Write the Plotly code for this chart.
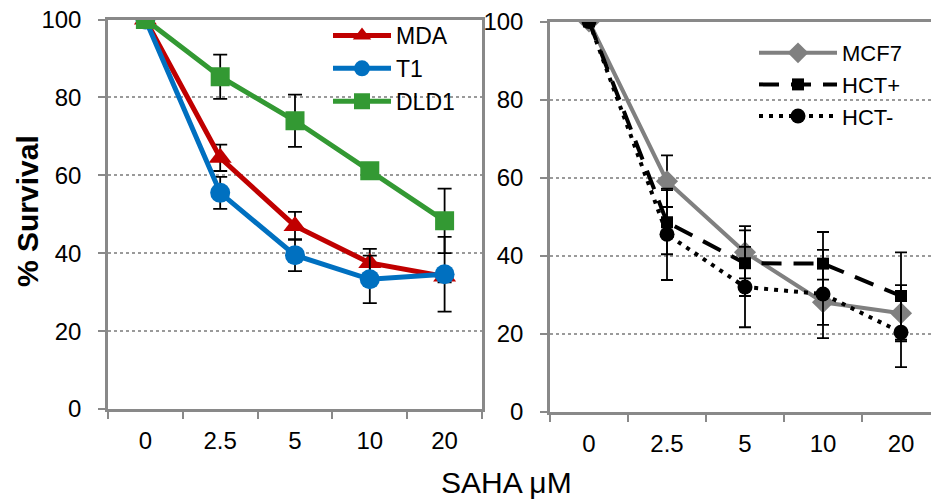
import plotly.graph_objects as go

categories = ["0", "2.5", "5", "10", "20"]

mda = [100, 64.5, 47.0, 37.5, 34.0]
mda_err = [0, 3.4, 3.6, 3.6, 1.5]
t1 = [100, 55.5, 39.5, 33.3, 34.6]
t1_err = [0, 4.1, 4.1, 6.1, 9.6]
dld1 = [100, 85.3, 74.0, 61.2, 48.3]
dld1_err = [0, 5.7, 6.7, 0.8, 8.3]

mcf7 = [100, 59.1, 40.9, 28.1, 25.3]
mcf7_err = [0, 6.6, 6.7, 5.8, 7.2]
hct_plus = [100, 48.6, 38.1, 38.0, 29.7]
hct_plus_err = [0, 8.2, 8.4, 8.1, 11.2]
hct_minus = [100, 45.5, 32.0, 30.2, 20.4]
hct_minus_err = [0, 11.7, 10.3, 11.3, 8.9]

y_ticks = [0, 20, 40, 60, 80, 100]

FONT = "Liberation Sans, Arial, sans-serif"
W, H = 931, 499
AX = "#898989"
GRID = "#9a9a9a"


def px(x):
    return x / W


def py(y):
    return 1 - y / H


def err(vals, w):
    return dict(type="data", array=vals, visible=True, color="black", thickness=1.8, width=w)


fig = go.Figure()

fig.add_trace(go.Scatter(x=categories, y=mda, name="MDA", mode="lines+markers",
                         line=dict(color="#C00000", width=5),
                         marker=dict(symbol="triangle-up", size=20, color="#C00000"),
                         error_y=err(mda_err, 7), xaxis="x", yaxis="y", legend="legend"))
fig.add_trace(go.Scatter(x=categories, y=t1, name="T1", mode="lines+markers",
                         line=dict(color="#0070C0", width=5),
                         marker=dict(symbol="circle", size=20, color="#0070C0"),
                         error_y=err(t1_err, 7), xaxis="x", yaxis="y", legend="legend"))
fig.add_trace(go.Scatter(x=categories, y=dld1, name="DLD1", mode="lines+markers",
                         line=dict(color="#339933", width=5),
                         marker=dict(symbol="square", size=19, color="#339933"),
                         error_y=err(dld1_err, 7), xaxis="x", yaxis="y", legend="legend"))

fig.add_trace(go.Scatter(x=categories, y=mcf7, name="MCF7", mode="lines+markers",
                         line=dict(color="#808080", width=4),
                         marker=dict(symbol="diamond", size=17, color="#808080"),
                         error_y=err(mcf7_err, 6), xaxis="x2", yaxis="y2", legend="legend2"))
fig.add_trace(go.Scatter(x=categories, y=hct_plus, name="HCT+", mode="lines+markers",
                         line=dict(color="black", width=4, dash="20px,12px"),
                         marker=dict(symbol="square", size=12, color="black"),
                         error_y=err(hct_plus_err, 6), xaxis="x2", yaxis="y2", legend="legend2"))
fig.add_trace(go.Scatter(x=categories, y=hct_minus, name="HCT-", mode="lines+markers",
                         line=dict(color="black", width=4, dash="4px,6px"),
                         marker=dict(symbol="circle", size=15, color="black"),
                         error_y=err(hct_minus_err, 6), xaxis="x2", yaxis="y2", legend="legend2"))


def xaxis(domain, rng):
    return dict(domain=domain, type="category", range=rng, tickson="boundaries",
                ticks="outside", ticklen=7, tickwidth=1.5, tickcolor=AX,
                showline=True, linecolor=AX, linewidth=2.5, mirror=True,
                showgrid=False, tickfont=dict(family=FONT, size=24, color="black"),
                ticklabelstandoff=8, fixedrange=True, automargin=False,
                ticklabeloverflow="allow")


def yaxis(domain, anchor):
    return dict(domain=domain, range=[0, 100], tickvals=y_ticks, anchor=anchor,
                ticks="outside", ticklen=7, tickwidth=1.5, tickcolor=AX,
                showline=True, linecolor=AX, linewidth=2.5, mirror=True,
                showgrid=True, gridcolor=GRID, griddash="dot", gridwidth=1.5,
                zeroline=False, tickfont=dict(family=FONT, size=24, color="black"),
                ticklabelstandoff=12, fixedrange=True, automargin=False,
                ticklabeloverflow="allow")


fig.update_layout(
    width=W, height=H,
    margin=dict(l=0, r=0, t=0, b=0, autoexpand=False),
    paper_bgcolor="white", plot_bgcolor="white",
    showlegend=True,
    hovermode=False,
    xaxis=xaxis([px(108), px(482)], [-0.5, 4.5]) | dict(anchor="y"),
    yaxis=yaxis([py(409), py(19.5)], "x"),
    xaxis2=xaxis([px(550), 1.0], [-0.5, -0.5 + (931 - 550) / 78]) | dict(anchor="y2"),
    yaxis2=yaxis([py(412), py(21.5)], "x2"),
    legend=dict(x=px(328), y=py(14), xanchor="left", yanchor="top",
                bgcolor="rgba(0,0,0,0)", font=dict(family=FONT, size=23, color="black"),
                itemwidth=58, tracegroupgap=0),
    legend2=dict(x=px(754), y=py(32), xanchor="left", yanchor="top",
                 bgcolor="rgba(0,0,0,0)", font=dict(family=FONT, size=22, color="black"),
                 itemwidth=78, tracegroupgap=0),
    annotations=[
        dict(text="<b>% Survival</b>", x=px(27), y=py(211), xref="paper", yref="paper",
             xanchor="center", yanchor="middle",
             textangle=-90, showarrow=False, font=dict(family=FONT, size=30, color="black")),
        dict(text="SAHA μM", x=px(507), y=py(482), xref="paper", yref="paper",
             xanchor="center", yanchor="middle",
             showarrow=False, font=dict(family=FONT, size=30, color="black")),
    ],
)

fig.write_html(
    "out.html",
    config={"displayModeBar": False},
    post_script="document.body.style.margin='0';document.documentElement.style.margin='0';",
)
